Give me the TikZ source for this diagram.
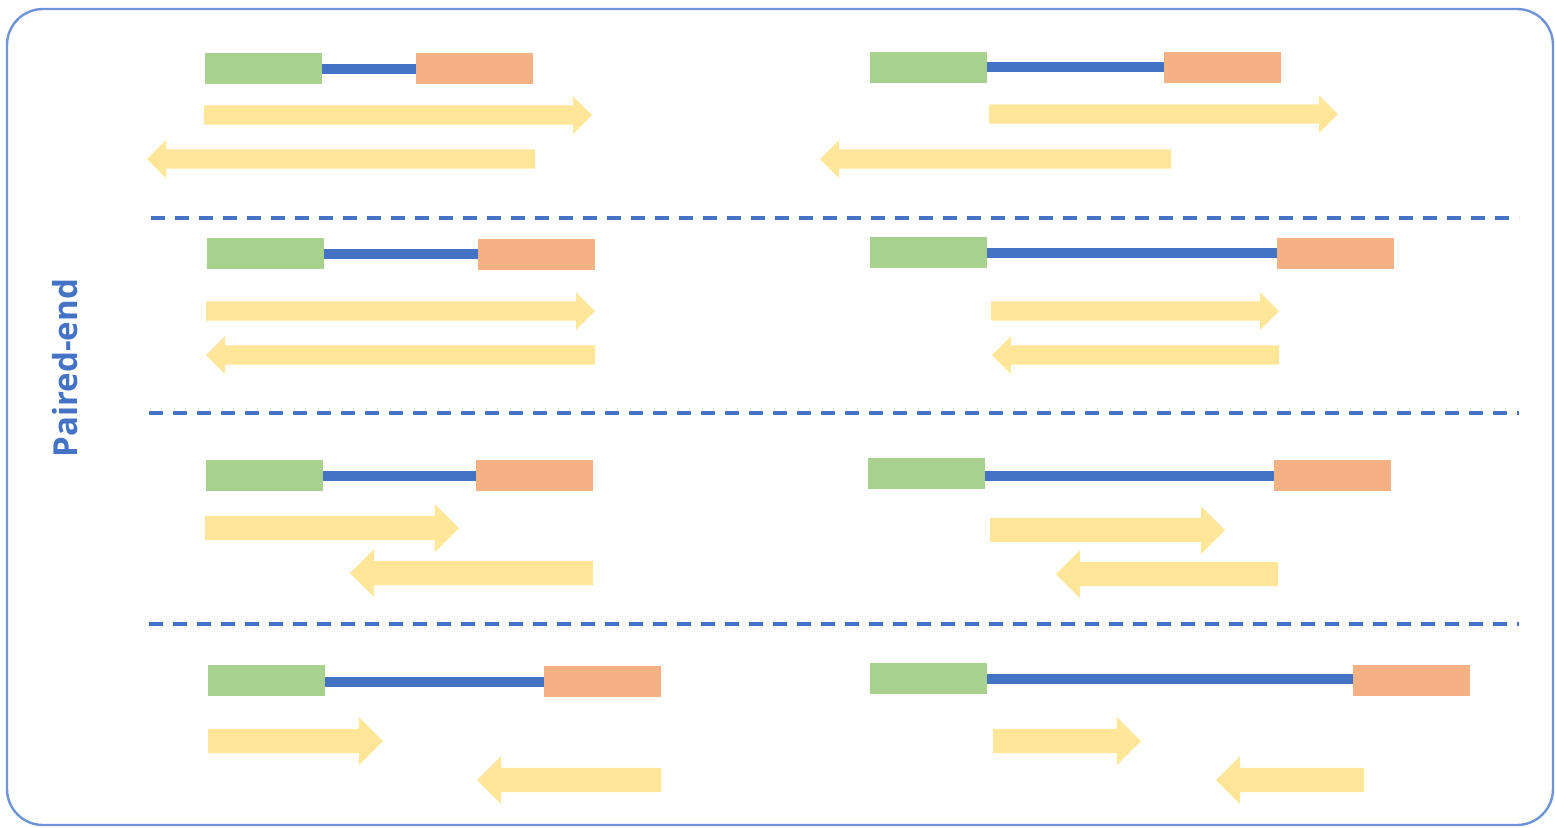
\documentclass[tikz,border=0pt]{standalone}
\usepackage{fontspec}
\setmainfont{Open Sans}
\definecolor{gfill}{HTML}{A9D18E}
\definecolor{ofill}{HTML}{F4B183}
\definecolor{bline}{HTML}{4472C4}
\definecolor{yfill}{HTML}{FFE699}
\definecolor{framec}{HTML}{6F93D9}
% #1 start x, #2 tip x, #3 y, #4 size factor
\newcommand\RArr[4]{\fill[yfill] (#1,#3-9.6*#4) -- (#2-19*#4,#3-9.6*#4) -- (#2-19*#4,#3-19*#4) -- (#2,#3) -- (#2-19*#4,#3+19*#4) -- (#2-19*#4,#3+9.6*#4) -- (#1,#3+9.6*#4) -- cycle;}
\newcommand\LArr[4]{\fill[yfill] (#1,#3-9.6*#4) -- (#2+19*#4,#3-9.6*#4) -- (#2+19*#4,#3-19*#4) -- (#2,#3) -- (#2+19*#4,#3+19*#4) -- (#2+19*#4,#3+9.6*#4) -- (#1,#3+9.6*#4) -- cycle;}
\tikzset{
  seg/.style={minimum width=58.5pt, minimum height=15.5pt, inner sep=0pt, draw=none},
  gbox/.style={seg, fill=gfill},
  obox/.style={seg, fill=ofill},
  link/.style={draw=bline, line width=5pt},
  sep/.style={draw=bline, line width=1.6pt, dash pattern=on 7pt off 5pt},
}
\begin{document}
\begin{tikzpicture}[x=0.5pt,y=-0.5pt]
\useasboundingbox (0,0) rectangle (1555,827);
\draw[framec, line width=1.2pt, rounded corners=18pt] (7,9) rectangle (1553,825);
\node[text=bline, rotate=90, font=\bfseries\fontsize{16.5}{20}\selectfont] (lbl) at (65,368) {Paired-end};

% separators
\coordinate (s1a) at (151,218); \coordinate (s1b) at (1519,218);
\coordinate (s2a) at (149,413); \coordinate (s2b) at (1519,413);
\coordinate (s3a) at (149,624); \coordinate (s3b) at (1519,624);
\draw[sep] (s1a) -- (s1b);
\draw[sep] (s2a) -- (s2b);
\draw[sep] (s3a) -- (s3b);

% Row 1
\node[gbox] (g1l) at (263.5,68.5) {};
\node[obox] (o1l) at (474.5,68.5) {};
\draw[link] (g1l.east) -- (g1l.east -| o1l.west);
\RArr{204}{592}{115}{1}
\LArr{535}{147}{159}{1}
\node[gbox] (g1r) at (928.5,67) {};
\node[obox] (o1r) at (1222.5,67) {};
\draw[link] (g1r.east) -- (g1r.east -| o1r.west);
\RArr{989}{1338}{114}{1}
\LArr{1171}{820}{159}{1}

% Row 2
\node[gbox] (g2l) at (265.5,253.5) {};
\node[obox] (o2l) at (536.5,254) {};
\draw[link] (g2l.east) -- (g2l.east -| o2l.west);
\RArr{206}{595}{311}{1}
\LArr{595}{206}{355}{1}
\node[gbox] (g2r) at (928.5,252) {};
\node[obox] (o2r) at (1335.5,253) {};
\draw[link] (o2r.west -| g2r.east) -- (o2r.west);
\RArr{991}{1279}{311}{1}
\LArr{1279}{992}{355}{1}

% Row 3
\node[gbox] (g3l) at (264.5,475.5) {};
\node[obox] (o3l) at (534.5,475.5) {};
\draw[link] (g3l.east) -- (g3l.east -| o3l.west);
\RArr{205}{459}{528}{1.27}
\LArr{593}{350}{573}{1.27}
\node[gbox] (g3r) at (926.5,473.5) {};
\node[obox] (o3r) at (1332.5,475.5) {};
\draw[link] (o3r.west) -- (o3r.west -| g3r.east);
\RArr{990}{1225}{530}{1.27}
\LArr{1278}{1056}{574}{1.27}

% Row 4
\node[gbox] (g4l) at (266.5,680.5) {};
\node[obox] (o4l) at (602.5,681.5) {};
\draw[link] (o4l.west) -- (o4l.west -| g4l.east);
\RArr{208}{383}{741}{1.27}
\LArr{661}{477}{780}{1.27}
\node[gbox] (g4r) at (928.5,678.5) {};
\node[obox] (o4r) at (1411.5,680.5) {};
\draw[link] (g4r.east) -- (g4r.east -| o4r.west);
\RArr{993}{1141}{741}{1.27}
\LArr{1364}{1216}{780}{1.27}
\end{tikzpicture}
\end{document}
